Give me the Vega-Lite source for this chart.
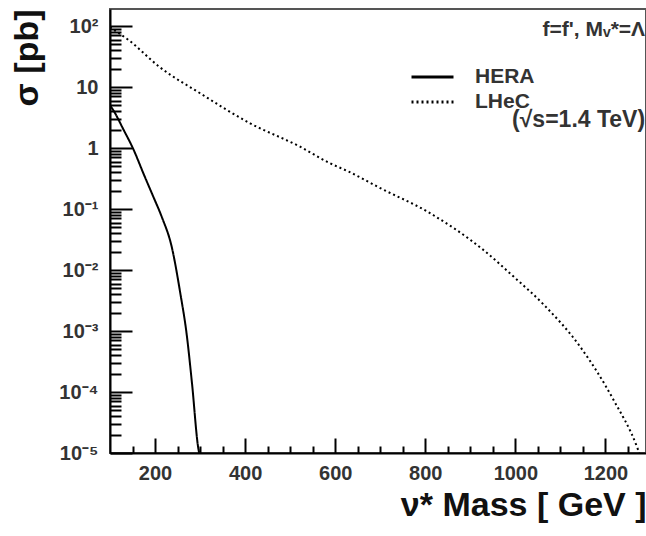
{
  "$schema": "https://vega.github.io/schema/vega-lite/v6.json",
  "width": 536,
  "height": 444,
  "autosize": {"type": "none"},
  "padding": {"left": 110, "top": 9, "right": 0, "bottom": 83},
  "background": "white",
  "config": {
    "view": {"stroke": "#555", "strokeWidth": 2},
    "font": "Liberation Sans"
  },
  "resolve": {"axis": {"x": "independent"}},
  "layer": [
    {
      "data": {
        "values": [
          {"mass": 100, "sigma": 5.0, "collider": "HERA"},
          {"mass": 107, "sigma": 4.2, "collider": "HERA"},
          {"mass": 130, "sigma": 2.0, "collider": "HERA"},
          {"mass": 152, "sigma": 0.95, "collider": "HERA"},
          {"mass": 175, "sigma": 0.37, "collider": "HERA"},
          {"mass": 196, "sigma": 0.16, "collider": "HERA"},
          {"mass": 215, "sigma": 0.074, "collider": "HERA"},
          {"mass": 237, "sigma": 0.024, "collider": "HERA"},
          {"mass": 256, "sigma": 0.0042, "collider": "HERA"},
          {"mass": 270, "sigma": 0.00091, "collider": "HERA"},
          {"mass": 282, "sigma": 0.00014, "collider": "HERA"},
          {"mass": 296, "sigma": 0.000012, "collider": "HERA"},
          {"mass": 298, "sigma": 0.00001, "collider": "HERA"},
          {"mass": 100, "sigma": 95, "collider": "LHeC"},
          {"mass": 141, "sigma": 59, "collider": "LHeC"},
          {"mass": 211, "sigma": 21, "collider": "LHeC"},
          {"mass": 300, "sigma": 7.9, "collider": "LHeC"},
          {"mass": 411, "sigma": 2.54, "collider": "LHeC"},
          {"mass": 522, "sigma": 1.05, "collider": "LHeC"},
          {"mass": 589, "sigma": 0.56, "collider": "LHeC"},
          {"mass": 630, "sigma": 0.41, "collider": "LHeC"},
          {"mass": 700, "sigma": 0.22, "collider": "LHeC"},
          {"mass": 804, "sigma": 0.091, "collider": "LHeC"},
          {"mass": 930, "sigma": 0.021, "collider": "LHeC"},
          {"mass": 996, "sigma": 0.0078, "collider": "LHeC"},
          {"mass": 1063, "sigma": 0.0027, "collider": "LHeC"},
          {"mass": 1144, "sigma": 0.00055, "collider": "LHeC"},
          {"mass": 1218, "sigma": 0.000074, "collider": "LHeC"},
          {"mass": 1270, "sigma": 0.0000126, "collider": "LHeC"},
          {"mass": 1275, "sigma": 0.00001, "collider": "LHeC"}
        ]
      },
      "mark": {"type": "line", "interpolate": "monotone", "strokeWidth": 2, "clip": true},
      "encoding": {
        "x": {
          "field": "mass", "type": "quantitative",
          "scale": {"domain": [100, 1290], "nice": false, "zero": false},
          "axis": {
            "title": "ν* Mass [ GeV ]",
            "titleFontSize": 34,
            "titleFontWeight": "bold",
            "titleAnchor": "end",
            "titlePadding": 5,
            "titleColor": "#111",
            "values": [150, 200, 250, 300, 350, 400, 450, 500, 550, 600, 650, 700, 750, 800, 850, 900, 950, 1000, 1050, 1100, 1150, 1200, 1250],
            "labelExpr": "indexof([200, 400, 600, 800, 1000, 1200], datum.value) >= 0 ? '' + datum.value : ''",
            "labelFontSize": 20,
            "labelFontWeight": "bold",
            "labelColor": "#333",
            "labelPadding": 25,
            "tickSize": {"condition": {"test": "indexof([200, 400, 600, 800, 1000, 1200], datum.value) >= 0", "value": -15}, "value": -7},
            "tickColor": "black",
            "tickWidth": 2,
            "domainColor": "black",
            "domainWidth": 2,
            "grid": false
          }
        },
        "y": {
          "field": "sigma", "type": "quantitative",
          "scale": {"type": "log", "domain": [0.00001, 190], "nice": false},
          "axis": {
            "title": "σ [pb]",
            "titleFontSize": 34,
            "titleFontWeight": "bold",
            "titleAnchor": "end",
            "titleColor": "#111",
            "titlePadding": 14,
            "values": [0.00001, 0.00002, 0.00003, 0.00004, 0.00005, 0.00006, 0.00007, 0.00008, 0.00009,
                       0.0001, 0.0002, 0.0003, 0.0004, 0.0005, 0.0006, 0.0007, 0.0008, 0.0009,
                       0.001, 0.002, 0.003, 0.004, 0.005, 0.006, 0.007, 0.008, 0.009,
                       0.01, 0.02, 0.03, 0.04, 0.05, 0.06, 0.07, 0.08, 0.09,
                       0.1, 0.2, 0.3, 0.4, 0.5, 0.6, 0.7, 0.8, 0.9,
                       1, 2, 3, 4, 5, 6, 7, 8, 9,
                       10, 20, 30, 40, 50, 60, 70, 80, 90, 100],
            "labelExpr": "datum.value == 0.00001 ? '10⁻⁵' : datum.value == 0.0001 ? '10⁻⁴' : datum.value == 0.001 ? '10⁻³' : datum.value == 0.01 ? '10⁻²' : datum.value == 0.1 ? '10⁻¹' : datum.value == 1 ? '1' : datum.value == 10 ? '10' : datum.value == 100 ? '10²' : ''",
            "labelFontSize": 20,
            "labelFontWeight": "bold",
            "labelColor": "#333",
            "labelPadding": 34,
            "labelOverlap": false,
            "labelFlush": false,
            "tickSize": {"condition": {"test": "abs(log(datum.value)/LN10 - round(log(datum.value)/LN10)) < 0.000001", "value": -22}, "value": -11},
            "tickColor": "black",
            "tickWidth": 2,
            "domainColor": "black",
            "domainWidth": 2,
            "grid": false
          }
        },
        "strokeDash": {
          "field": "collider", "type": "nominal",
          "scale": {"domain": ["HERA", "LHeC"], "range": [[1, 0], [2, 3]]},
          "legend": {
            "orient": "none",
            "legendX": 300,
            "legendY": 58,
            "title": null,
            "symbolType": "stroke",
            "symbolSize": 1764,
            "clipHeight": 20,
            "symbolStrokeWidth": 3,
            "symbolStrokeColor": "black",
            "labelFontSize": 21,
            "labelFontWeight": "bold",
            "labelColor": "#333",
            "labelOffset": 20,
            "rowPadding": 4
          }
        },
        "color": {"value": "black"}
      }
    },
    {
      "data": {"values": [{}]},
      "mark": {"type": "text", "align": "right", "baseline": "middle", "fontSize": 21, "fontWeight": "bold", "color": "#333"},
      "encoding": {
        "x": {"datum": 1288, "axis": null},
        "y": {"datum": 86},
        "text": {"value": "f=f', Mᵥ*=Λ"}
      }
    },
    {
      "data": {"values": [{}]},
      "mark": {"type": "text", "align": "right", "baseline": "middle", "fontSize": 23, "fontWeight": "bold", "color": "#333"},
      "encoding": {
        "x": {"datum": 1288, "axis": null},
        "y": {"datum": 2.9},
        "text": {"value": "(√s=1.4 TeV)"}
      }
    }
  ]
}
